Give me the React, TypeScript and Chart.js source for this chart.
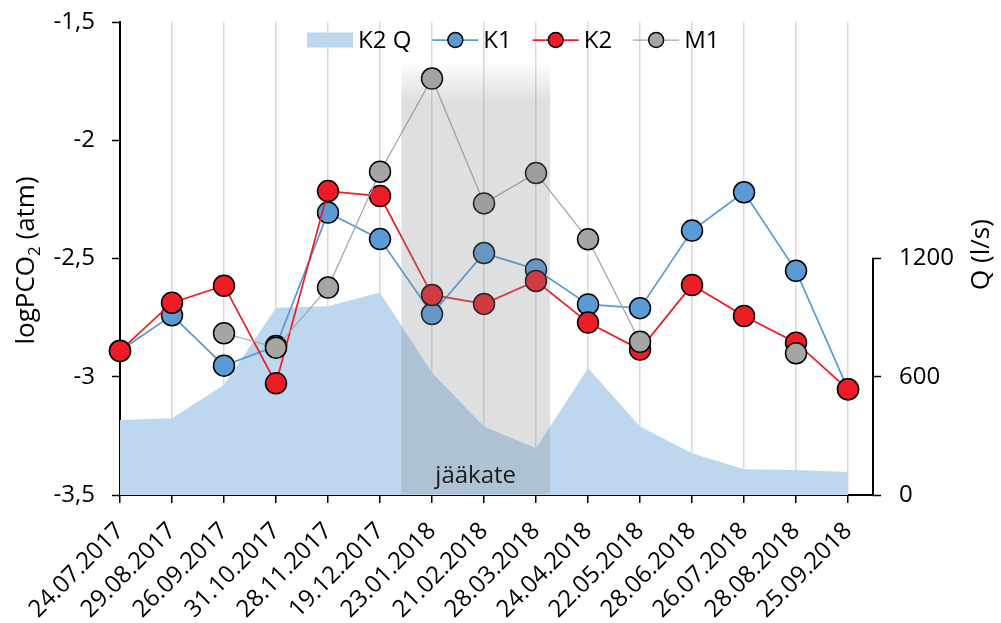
import React, { useEffect, useRef } from 'react';
import { Chart, registerables } from 'chart.js';

Chart.register(...registerables);

// ---------- data ----------
const dates: string[] = [
  '24.07.2017', '29.08.2017', '26.09.2017', '31.10.2017', '28.11.2017', '19.12.2017',
  '23.01.2018', '21.02.2018', '28.03.2018', '24.04.2018', '22.05.2018', '28.06.2018',
  '26.07.2018', '28.08.2018', '25.09.2018',
];
const k2q: number[] = [380, 390, 560, 950, 958, 1027, 620, 347, 237, 644, 347, 212, 131, 127, 117];
const k1: number[] = [-2.89, -2.74, -2.953, -2.87, -2.306, -2.418, -2.735, -2.477, -2.546, -2.694, -2.71, -2.382, -2.22, -2.552, -3.053];
const k2: number[] = [-2.891, -2.687, -2.615, -3.028, -2.215, -2.236, -2.654, -2.692, -2.595, -2.771, -2.885, -2.612, -2.743, -2.856, -3.053];
const m1: (number | null)[] = [null, null, -2.816, -2.877, -2.623, -2.133, -1.739, -2.267, -2.139, -2.419, -2.852, null, null, -2.901, null];
const leftTicks: number[] = [-3.5, -3, -2.5, -2, -1.5];
const rightTicks: number[] = [0, 600, 1200];
const seriesLabels = { q: 'K2 Q', k1: 'K1', k2: 'K2', m1: 'M1' };
const iceLabel = 'jääkate';
const iceStart = 5.41; // category-index units
const iceEnd = 8.27;
const iceTop = -1.665; // left-axis units
const leftTitle = ['logPCO', '2', ' (atm)'];
const rightTitle = 'Q (l/s)';

const FONT = '"Open Sans", "DejaVu Sans", sans-serif';
const C_AREA = '#bdd7ee';
const C_K1 = '#5b9bd5';
const C_K2 = '#ee1c24';
const C_M1 = '#a5a5a5';

const toXY = (arr: (number | null)[]) => arr.map((v, i) => ({ x: i, y: v }));

const overlayPlugin = {
  id: 'iceOverlay',
  afterDatasetsDraw(chart: any) {
    const { ctx, chartArea, scales } = chart;
    const x0 = scales.x.getPixelForValue(iceStart);
    const x1 = scales.x.getPixelForValue(iceEnd);
    const top = scales.y.getPixelForValue(iceTop);
    const bottom = chartArea.bottom - 1;
    ctx.save();
    const g = ctx.createLinearGradient(0, top, 0, top + 40);
    g.addColorStop(0, 'rgba(134,138,145,0)');
    g.addColorStop(1, 'rgba(134,138,145,0.27)');
    ctx.fillStyle = g;
    ctx.fillRect(x0, top, x1 - x0, bottom - top);
    ctx.font = `24px ${FONT}`;
    ctx.fillStyle = '#1a1a1a';
    ctx.textAlign = 'center';
    ctx.textBaseline = 'alphabetic';
    ctx.fillText(iceLabel, (x0 + x1) / 2, chartArea.bottom - 12);
    ctx.restore();
  },
};

const extrasPlugin = {
  id: 'extras',
  afterDraw(chart: any) {
    const { ctx, chartArea, scales } = chart;
    ctx.save();
    // right axis line (0..1200)
    const y1 = scales.y1;
    ctx.strokeStyle = '#000';
    ctx.lineWidth = 2;
    ctx.beginPath();
    ctx.moveTo(chartArea.right, y1.getPixelForValue(rightTicks[0]) + 1);
    ctx.lineTo(chartArea.right, y1.getPixelForValue(rightTicks[rightTicks.length - 1]) - 0.75);
    ctx.stroke();

    // left title
    ctx.fillStyle = '#000';
    ctx.textBaseline = 'middle';
    const big = `26px ${FONT}`;
    const small = `17px ${FONT}`;
    ctx.font = big;
    const w0 = ctx.measureText(leftTitle[0]).width;
    const w2 = ctx.measureText(leftTitle[2]).width;
    ctx.font = small;
    const w1 = ctx.measureText(leftTitle[1]).width;
    const total = w0 + w1 + w2;
    ctx.save();
    ctx.translate(27, (chartArea.top + chartArea.bottom) / 2 + 2);
    ctx.rotate(-Math.PI / 2);
    ctx.textAlign = 'left';
    let cx = -total / 2;
    ctx.font = big;
    ctx.fillText(leftTitle[0], cx, 0);
    cx += w0;
    ctx.font = small;
    ctx.fillText(leftTitle[1], cx, 8);
    cx += w1;
    ctx.font = big;
    ctx.fillText(leftTitle[2], cx, 0);
    ctx.restore();

    // right title
    ctx.save();
    ctx.translate(982, y1.getPixelForValue(rightTicks[2]) - 4);
    ctx.rotate(-Math.PI / 2);
    ctx.textAlign = 'center';
    ctx.font = big;
    ctx.fillText(rightTitle, 0, 0);
    ctx.restore();

    // legend
    const ly = 40;
    let lx = 307;
    ctx.font = `24px ${FONT}`;
    ctx.textAlign = 'left';
    ctx.textBaseline = 'middle';
    const ds = chart.data.datasets;
    ds.forEach((d: any, i: number) => {
      if (i === 0) {
        ctx.fillStyle = d.backgroundColor;
        ctx.fillRect(lx, ly - 7.5, 46, 15);
      } else {
        ctx.strokeStyle = d.borderColor;
        ctx.lineWidth = d.borderWidth;
        ctx.beginPath();
        ctx.moveTo(lx, ly);
        ctx.lineTo(lx + 46, ly);
        ctx.stroke();
        ctx.beginPath();
        ctx.arc(lx + 23, ly, 7.5, 0, Math.PI * 2);
        ctx.fillStyle = d.pointBackgroundColor;
        ctx.fill();
        ctx.strokeStyle = '#000';
        ctx.lineWidth = 1.5;
        ctx.stroke();
      }
      lx += 51;
      ctx.fillStyle = '#000';
      ctx.fillText(d.label, lx, ly + 1);
      lx += ctx.measureText(d.label).width + 21;
    });
    ctx.restore();
  },
};

export default function App() {
  const ref = useRef<HTMLCanvasElement | null>(null);
  useEffect(() => {
    document.body.style.margin = '0';
    if (!ref.current) return;
    Chart.defaults.font.family = FONT;
    const tickFont = { size: 24, family: FONT };
    const lineDs = (label: string, data: (number | null)[], color: string, bw: number, order: number) => ({
      type: 'line' as const,
      label,
      data: toXY(data),
      xAxisID: 'x',
      yAxisID: 'y',
      borderColor: color,
      backgroundColor: color,
      pointBackgroundColor: color,
      pointBorderColor: '#000',
      pointBorderWidth: 1.5,
      pointRadius: 10.5,
      borderWidth: bw,
      fill: false,
      tension: 0,
      spanGaps: false,
      clip: false as any,
      order,
    });
    const chart = new Chart(ref.current, {
      type: 'line',
      data: {
        datasets: [
          {
            type: 'line',
            label: seriesLabels.q,
            data: toXY(k2q),
            xAxisID: 'x',
            yAxisID: 'y1',
            fill: 'origin',
            backgroundColor: C_AREA,
            borderColor: 'transparent',
            borderWidth: 0,
            pointRadius: 0,
            tension: 0,
            order: 3,
          } as any,
          lineDs(seriesLabels.k1, k1, C_K1, 1.75, 2),
          lineDs(seriesLabels.k2, k2, C_K2, 1.75, 1),
          lineDs(seriesLabels.m1, m1, C_M1, 1.25, 0),
        ],
      },
      options: {
        responsive: false,
        animation: false,
        layout: { padding: { top: 22, left: 0, right: 0, bottom: 0 } },
        plugins: { legend: { display: false }, tooltip: { enabled: false } },
        scales: {
          x: {
            type: 'linear',
            min: 0,
            max: 14.48,
            afterBuildTicks: (s: any) => {
              s.ticks = dates.map((_, i) => ({ value: i }));
            },
            afterFit: (s: any) => {
              s.height = 128;
            },
            ticks: {
              callback: (v: any) => dates[Math.round(Number(v))],
              minRotation: 45,
              maxRotation: 45,
              autoSkip: false,
              font: tickFont,
              color: '#000',
              padding: 14,
            },
            grid: {
              color: '#d9d9d9',
              lineWidth: 1.5,
              tickColor: '#000',
              tickWidth: 1.5,
              tickLength: 8,
              drawOnChartArea: true,
            },
            border: { color: '#000', width: 2 },
          },
          y: {
            position: 'left',
            min: -3.5,
            max: -1.5,
            afterBuildTicks: (s: any) => {
              s.ticks = leftTicks.map((v) => ({ value: v }));
            },
            afterFit: (s: any) => {
              s.width = 120;
              s.paddingTop = 0;
              s.paddingBottom = 0;
            },
            ticks: {
              callback: (v: any) => String(v).replace('.', ','),
              font: tickFont,
              color: '#000',
              padding: 17,
            },
            grid: { drawOnChartArea: false, tickColor: '#000', tickWidth: 1.5, tickLength: 8 },
            border: { color: '#000', width: 2 },
          },
          y1: {
            position: 'right',
            min: 0,
            max: 2400,
            afterBuildTicks: (s: any) => {
              s.ticks = rightTicks.map((v) => ({ value: v }));
            },
            afterFit: (s: any) => {
              s.width = 128;
              s.paddingTop = 0;
              s.paddingBottom = 0;
            },
            ticks: {
              callback: (v: any) => String(v),
              font: tickFont,
              color: '#000',
              padding: 18,
            },
            grid: { drawOnChartArea: false, tickColor: '#000', tickWidth: 1.5, tickLength: 8 },
            border: { display: false },
          },
        },
      },
      plugins: [overlayPlugin, extrasPlugin],
    } as any);
    return () => chart.destroy();
  }, []);
  return (
    <div style={{ position: 'absolute', left: 0, top: 0, width: 1001, height: 623, background: '#fff' }}>
      <canvas ref={ref} width={1001} height={623} />
    </div>
  );
}
